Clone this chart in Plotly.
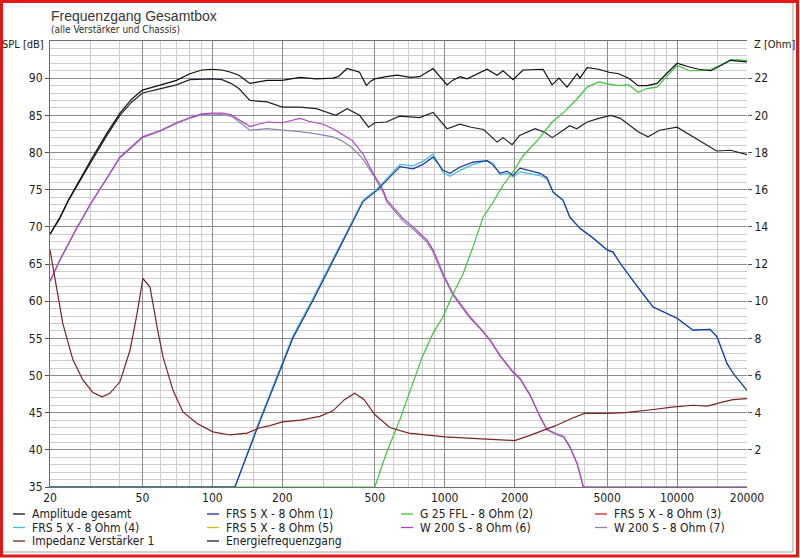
import plotly.graph_objects as go

# --- data (Hz / dB, impedance in Ohm) ---
freq_amp = [20, 22, 24, 27, 30, 35, 40, 45, 50, 60, 70, 80, 90, 100, 110, 120, 130, 145, 160, 172, 200, 238,
            280, 330, 348, 380, 430, 460, 480, 500, 560, 625, 710, 780, 891, 1023, 1080, 1164, 1248, 1521, 1680,
            1782, 1968, 2174, 2650, 2898, 3100, 3362, 3712, 3820, 4100, 4600, 5100, 5600, 6200, 6800, 7400, 8200,
            9000, 10000, 11300, 12400, 14000, 15500, 17000, 20000]
spl_amp = [69.0, 71.2, 73.6, 76.5, 79.0, 82.5, 85.3, 87.2, 88.4, 89.1, 89.7, 90.6, 91.1, 91.2, 91.1, 90.8, 90.4,
           89.3, 89.5, 89.7, 89.7, 90.1, 89.9, 90.0, 90.2, 91.3, 90.8, 89.0, 89.6, 89.9, 90.2, 90.4, 90.1, 90.2,
           91.3, 89.1, 89.7, 90.2, 89.9, 91.2, 90.4, 91.0, 89.8, 91.1, 91.2, 89.1, 90.0, 88.8, 90.6, 90.0, 91.4,
           91.2, 90.8, 90.6, 90.0, 89.0, 89.0, 89.3, 90.6, 92.0, 91.5, 91.2, 91.0, 91.7, 92.4, 92.2]

freq_energy = [20, 22, 24, 27, 30, 35, 40, 45, 50, 60, 70, 80, 90, 100, 110, 120, 130, 145, 172, 200, 238, 280,
               340, 380, 430, 470, 500, 560, 640, 780, 891, 1023, 1164, 1300, 1470, 1680, 1782, 1950, 2100, 2450,
               2700, 2900, 3200, 3450, 3700, 4100, 4600, 5200, 5700, 6800, 7500, 8400, 10000, 12400, 14800,
               17000, 20000]
spl_energy = [69.0, 71.1, 73.5, 76.3, 78.7, 82.2, 85.0, 86.8, 88.0, 88.6, 89.1, 89.8, 89.9, 89.9, 89.8, 89.3,
              88.6, 87.0, 86.8, 86.1, 86.1, 85.9, 85.0, 85.9, 85.0, 83.4, 84.0, 84.1, 84.9, 84.7, 85.4, 83.2,
              83.8, 83.4, 83.1, 81.4, 82.0, 81.05, 82.3, 83.2, 82.7, 82.0, 82.9, 83.6, 83.2, 84.1, 84.6, 85.0,
              84.6, 82.8, 82.1, 83.0, 83.4, 81.6, 80.2, 80.3, 79.7]

freq_frs1 = [20, 125, 160, 222, 271, 321, 380, 445, 511, 582, 642, 731, 806, 891, 984, 1054, 1164, 1324, 1521,
             1614, 1730, 1854, 1968, 2110, 2330, 2573, 2756, 2926, 3230, 3460, 3820, 4350, 5000, 5300, 5690,
             6100, 6930, 7890, 8710, 10000, 11720, 12560, 13870, 14860, 16420, 17420, 20000]
spl_frs1 = [35.0, 35.0, 43.8, 55.0, 60.1, 64.6, 69.1, 73.4, 74.9, 76.7, 78.1, 77.8, 78.4, 79.4, 77.6, 77.2,
            78.05, 78.7, 78.9, 78.3, 77.2, 77.5, 76.9, 77.9, 77.6, 77.2, 76.6, 74.7, 73.6, 71.3, 69.8, 68.5,
            66.9, 66.6, 65.1, 63.8, 61.5, 59.2, 58.6, 57.7, 56.1, 56.1, 56.2, 55.2, 51.6, 50.3, 48.0]

freq_frs4 = [20, 125, 160, 222, 271, 321, 380, 445, 511, 582, 642, 731, 806, 891, 984, 1054, 1164, 1324, 1521,
             1614, 1730, 1854, 1968, 2110, 2330, 2573, 2756, 2926, 3230, 3460, 3820, 4350, 5000, 5300, 5690,
             6100, 6930, 7890, 8710, 10000, 11720, 12560, 13870, 14860, 16420, 17420, 20000]
spl_frs4 = [35.0, 35.0, 44.1, 55.3, 60.4, 64.9, 69.4, 73.6, 75.1, 77.0, 78.4, 78.2, 78.8, 79.8, 77.3, 76.8,
            77.6, 78.4, 78.9, 78.6, 77.0, 77.2, 76.7, 77.4, 77.2, 76.9, 76.4, 74.6, 73.5, 71.2, 69.8, 68.5,
            66.9, 66.6, 65.1, 63.8, 61.5, 59.2, 58.6, 57.7, 56.1, 56.1, 56.2, 55.2, 51.6, 50.3, 48.0]

freq_g25 = [20, 500, 560, 640, 720, 800, 891, 984, 1086, 1200, 1324, 1462, 1614, 1782, 1968, 2180, 2550, 2900,
            3250, 3712, 4100, 4600, 5100, 5600, 6200, 6800, 7400, 8200, 9000, 10000, 11300, 12400, 14000,
            15500, 17000, 20000]
spl_g25 = [35.0, 35.0, 39.5, 44.0, 48.5, 52.5, 55.7, 57.9, 61.0, 63.7, 67.3, 71.3, 73.3, 75.6, 77.4, 79.6,
           81.9, 84.1, 85.4, 87.2, 88.8, 89.5, 89.2, 89.0, 89.1, 88.1, 88.6, 88.8, 90.2, 91.7, 91.0, 91.0, 91.2,
           91.8, 92.5, 92.4]

freq_w200_6 = [20, 22, 25.7, 30, 35, 40, 45, 50, 60, 70, 80, 90, 100, 110, 120, 127, 145, 172, 200, 238, 260,
               300, 330, 360, 400, 445, 492, 542, 564, 662, 731, 840, 891, 984, 1086, 1164, 1286, 1420, 1568,
               1730, 1968, 2110, 2330, 2573, 2750, 3000, 3250, 3460, 3712, 3950, 20000]
spl_w200_6 = [62.7, 65.5, 69.5, 73.2, 76.5, 79.4, 80.8, 82.1, 83.0, 84.0, 84.7, 85.2, 85.3, 85.3, 85.1, 84.6,
              83.5, 84.1, 84.0, 84.6, 84.2, 83.8, 83.2, 82.5, 81.6, 79.8, 77.2, 75.0, 73.6, 71.1, 70.0, 68.2,
              66.9, 63.7, 61.0, 59.7, 57.9, 56.4, 54.8, 52.7, 50.5, 49.6, 47.4, 44.5, 42.8, 42.2, 41.8, 40.4,
              38.2, 35.0, 35.0]

freq_w200_7 = [20, 22, 25.7, 30, 35, 40, 45, 50, 60, 70, 80, 90, 100, 110, 120, 127, 145, 172, 200, 238, 280,
               330, 360, 400, 445, 492, 542, 564, 662, 731, 840, 891, 984, 1086, 1164, 1286, 1420, 1568, 1730,
               1968, 2110, 2330, 2573, 2750, 3000, 3250, 3460, 3712, 3950, 20000]
spl_w200_7 = [62.6, 65.4, 69.4, 73.1, 76.4, 79.3, 80.7, 82.0, 82.9, 83.9, 84.6, 85.1, 85.2, 85.1, 84.9, 84.4,
              83.0, 83.2, 83.0, 82.8, 82.5, 82.1, 81.6, 80.6, 79.1, 77.0, 74.7, 73.3, 70.8, 69.7, 67.9, 66.6,
              63.4, 60.8, 59.5, 57.7, 56.3, 54.7, 52.6, 50.4, 49.5, 47.3, 44.4, 42.7, 42.1, 41.7, 40.3, 38.1,
              35.0, 35.0]

freq_imp = [20, 21.4, 22.7, 25.1, 27.7, 30.5, 33.5, 36.2, 40, 44.2, 47.4, 50.2, 53.9, 57.8, 61.3, 67.7, 74.7,
            85.9, 100.6, 119, 141, 160, 177, 200, 240, 290, 330, 370, 410, 450, 500, 580, 700, 1000, 1400, 2000,
            2300, 3000, 3530, 4000, 5000, 6000, 7900, 9500, 11700, 13500, 15500, 17400, 20000]
ohm_imp = [12.76, 10.6, 8.8, 6.84, 5.76, 5.1, 4.85, 5.04, 5.66, 7.36, 9.33, 11.22, 10.76, 8.6, 7.0, 5.2, 4.04,
           3.42, 2.97, 2.8, 2.9, 3.19, 3.3, 3.5, 3.6, 3.8, 4.1, 4.7, 5.05, 4.7, 3.9, 3.2, 2.9, 2.7, 2.6, 2.5,
           2.75, 3.3, 3.7, 3.96, 3.96, 4.0, 4.17, 4.3, 4.4, 4.35, 4.55, 4.7, 4.76]

x_ticks = [20, 50, 100, 200, 500, 1000, 2000, 5000, 10000, 20000]
x_minor = [30, 40, 60, 70, 80, 90, 150, 300, 400, 600, 700, 800, 900, 1500, 3000, 4000, 6000, 7000, 8000, 9000,
           15000]
spl_ticks = [35, 40, 45, 50, 55, 60, 65, 70, 75, 80, 85, 90]
ohm_ticks = [2, 4, 6, 8, 10, 12, 14, 16, 18, 20, 22]

# legend order (as in the reference) with colours
series = [
    ("Amplitude gesamt", "#101010", freq_amp, spl_amp, "y"),
    ("FRS 5 X - 8 Ohm (1)", "#1a35a0", freq_frs1, spl_frs1, "y"),
    ("G 25 FFL - 8 Ohm (2)", "#3cc43c", freq_g25, spl_g25, "y"),
    ("FRS 5 X - 8 Ohm (3)", "#d02020", [], [], "y"),
    ("FRS 5 X - 8 Ohm (4)", "#48bcd8", freq_frs4, spl_frs4, "y"),
    ("FRS 5 X - 8 Ohm (5)", "#c8c020", [], [], "y"),
    ("W 200 S - 8 Ohm (6)", "#b044c0", freq_w200_6, spl_w200_6, "y"),
    ("W 200 S - 8 Ohm (7)", "#8a88b0", freq_w200_7, spl_w200_7, "y"),
    ("Impedanz Verstärker 1", "#7a2424", freq_imp, ohm_imp, "y2"),
    ("Energiefrequenzgang", "#202030", freq_energy, spl_energy, "y"),
]

W, H = 800, 558
L, R, T, B = 50, 53, 41, 71
PW, PH = W - L - R, H - T - B


def px(x):
    return (x - L) / PW


def py(y):
    return (H - B - y) / PH


FONT = "Liberation Sans Narrow, DejaVu Sans Condensed, Liberation Sans, Arial"

fig = go.Figure()
# reference draws the later series underneath the earlier ones
for name, color, xs, ys, ax in reversed(series):
    fig.add_trace(go.Scatter(x=xs if xs else [None], y=ys if ys else [None], mode="lines", name=name,
                             yaxis=ax, line=dict(color=color, width=1.2), showlegend=False))

shapes = []
annotations = []

# hand made legend, 4 columns x 3 rows
for i, (name, color, _, _, _) in enumerate(series):
    col, row = i % 4, i // 4
    x0 = 13 + col * 194
    yy = 514 + row * 13.5
    shapes.append(dict(type="line", xref="paper", yref="paper", x0=px(x0), x1=px(x0 + 12),
                       y0=py(yy), y1=py(yy), line=dict(color=color, width=1.3)))
    annotations.append(dict(text=name, xref="paper", yref="paper", x=px(x0 + 17), y=py(yy),
                            xanchor="left", yanchor="middle", showarrow=False,
                            font=dict(family=FONT, size=12, color="#202020")))

# titles / axis captions
annotations += [
    dict(text="Frequenzgang Gesamtbox", xref="paper", yref="paper", x=px(49), y=py(6), xanchor="left",
         yanchor="top", showarrow=False, font=dict(family="Liberation Sans, Arial", size=14, color="#383838")),
    dict(text="(alle Verstärker und Chassis)", xref="paper", yref="paper", x=px(49), y=py(22), xanchor="left",
         yanchor="top", showarrow=False, font=dict(family=FONT, size=10, color="#303030")),
    dict(text="SPL [dB]", xref="paper", yref="paper", x=px(46), y=py(44), xanchor="right",
         yanchor="middle", showarrow=False, font=dict(family=FONT, size=11, color="#202020")),
    dict(text="Z [Ohm]", xref="paper", yref="paper", x=px(752), y=py(44), xanchor="left",
         yanchor="middle", showarrow=False, font=dict(family=FONT, size=11, color="#202020")),
]

# window frame
shapes += [
    dict(type="line", xref="paper", yref="paper", x0=px(793), x1=px(793), y0=py(0), y1=py(552),
         line=dict(color="#a0a0a0", width=1)),
    dict(type="line", xref="paper", yref="paper", x0=px(0), x1=px(793), y0=py(552), y1=py(552),
         line=dict(color="#a0a0a0", width=1)),
    dict(type="rect", xref="paper", yref="paper", x0=px(1.5), x1=px(797.5), y0=py(1.5), y1=py(556),
         line=dict(color="#e01818", width=3)),
]

fig.update_layout(
    width=W, height=H,
    margin=dict(l=L, r=R, t=T, b=B),
    paper_bgcolor="white", plot_bgcolor="white",
    showlegend=False,
    shapes=shapes, annotations=annotations,
    xaxis=dict(type="log", range=[1.30103, 4.30103], tickvals=x_ticks, ticktext=[str(v) for v in x_ticks],
               showgrid=True, gridcolor="#8c8c8c", gridwidth=1, ticks="", zeroline=False,
               showline=True, linecolor="#707070", mirror=True,
               minor=dict(tickvals=x_minor, showgrid=True, gridcolor="#cdcdcd", ticks=""),
               tickfont=dict(family=FONT, size=12, color="#202020")),
    yaxis=dict(range=[35, 95], tickvals=spl_ticks, showgrid=True, gridcolor="#8c8c8c", ticks="outside",
               ticklen=4, tickcolor="#505050", zeroline=False, showline=True, linecolor="#707070",
               minor=dict(dtick=1, showgrid=True, gridcolor="#cdcdcd", ticks=""),
               tickfont=dict(family=FONT, size=12, color="#202020")),
    yaxis2=dict(range=[0, 24], overlaying="y", side="right", tickvals=ohm_ticks, showgrid=False,
                ticks="outside", ticklen=4, tickcolor="#505050", zeroline=False, showline=False,
                tickfont=dict(family=FONT, size=12, color="#202020")),
)

# drop the browser's default body margin so the figure sits at the window's top-left corner
fig.write_html("out.html", config={"displayModeBar": False},
               post_script="document.body.style.margin='0';document.body.style.overflow='hidden';")
